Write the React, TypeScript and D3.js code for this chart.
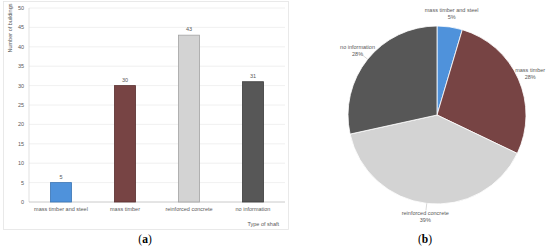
import React from 'react';
import * as d3 from 'd3';

const categories = ['mass timber and steel', 'mass timber', 'reinforced concrete', 'no information'];
const buildings = [5, 30, 43, 31];
const yTicks = [0, 5, 10, 15, 20, 25, 30, 35, 40, 45, 50];
const fills = ['#4f92db', '#774444', '#d3d3d3', '#575757'];
const strokes = ['#3b76b5', '#5a3131', '#a3a3a3', '#3e3e3e'];

const FONT = '"Liberation Sans", Arial, sans-serif';
const TXT = '#595959';

function BarChart() {
    const x = d3
        .scaleBand<string>()
        .domain(categories)
        .range([29, 285])
        .paddingInner(0.67)
        .paddingOuter(0.335);
    const y = d3.scaleLinear().domain([0, 50]).range([202, 8]);

    return (
        <g fontFamily={FONT}>
            <rect x={3.5} y={1.5} width={285} height={228} fill="none" stroke="#e4e4e4" strokeWidth={0.8} />
            {yTicks.map(t => (
                <g key={t}>
                    {t > 0 && <line x1={29} x2={285} y1={y(t)} y2={y(t)} stroke="#ececec" strokeWidth={0.8} />}
                    <text x={24} y={y(t)} dy="0.35em" fontSize={5.5} textAnchor="end" fill={TXT}>
                        {t}
                    </text>
                </g>
            ))}
            <line x1={29} x2={29} y1={y(50)} y2={y(0)} stroke="#d9d9d9" strokeWidth={0.8} />
            <line x1={29} x2={285} y1={y(0)} y2={y(0)} stroke="#bdbdbd" strokeWidth={0.8} />
            <text transform={`translate(12 ${28}) rotate(-90)`} fontSize={5.5} textAnchor="middle" fill={TXT}>
                Number of buildings
            </text>
            {categories.map((c, i) => (
                <g key={c}>
                    <rect
                        x={x(c)}
                        y={y(buildings[i])}
                        width={x.bandwidth()}
                        height={y(0) - y(buildings[i])}
                        fill={fills[i]}
                        stroke={strokes[i]}
                        strokeWidth={0.8}
                    />
                    <text x={(x(c) || 0) + x.bandwidth() / 2} y={y(buildings[i]) - 4} fontSize={5.5} textAnchor="middle" fill={TXT}>
                        {buildings[i]}
                    </text>
                    <text x={(x(c) || 0) + x.bandwidth() / 2} y={211} fontSize={5.5} textAnchor="middle" fill={TXT}>
                        {c}
                    </text>
                </g>
            ))}
            <text x={279} y={226} fontSize={5.5} textAnchor="end" fill={TXT}>
                Type of shaft
            </text>
            <text x={145} y={243} fontSize={11.5} textAnchor="middle" fontFamily='"Liberation Serif", serif' fill="#000">
                (<tspan fontWeight="bold">a</tspan>)
            </text>
        </g>
    );
}

function PieChart() {
    const cx = 437;
    const cy = 115;
    const r = 89;
    const total = d3.sum(buildings);
    const pie = d3
        .pie<number>()
        .value(d => d)
        .sort(null);
    const arcs = pie(buildings);
    const arc = d3.arc<d3.PieArcDatum<number>>().innerRadius(0).outerRadius(r);
    const labelArc = d3.arc<d3.PieArcDatum<number>>().innerRadius(102).outerRadius(102);
    const lineIn = d3.arc<d3.PieArcDatum<number>>().innerRadius(r).outerRadius(r);
    const lineOut = d3.arc<d3.PieArcDatum<number>>().innerRadius(96).outerRadius(96);

    return (
        <g transform={`translate(${cx} ${cy})`} fontFamily={FONT}>
            {arcs.map((a, i) => (
                <path key={i} d={arc(a) || ''} fill={fills[i]} stroke="#ffffff" strokeWidth={0.8} />
            ))}
            {arcs.map((a, i) => {
                const [lx, ly] = labelArc.centroid(a);
                const [x1, y1] = lineIn.centroid(a);
                const [x2, y2] = lineOut.centroid(a);
                const pct = Math.round((buildings[i] / total) * 100);
                return (
                    <g key={i}>
                        {i >= 2 && <line x1={x1} y1={y1} x2={x2} y2={y2} stroke="#bfbfbf" strokeWidth={0.6} />}
                        <text x={lx} y={ly} fontSize={5.5} textAnchor="middle" fill={TXT}>
                            <tspan x={lx} dy="-0.3em">{categories[i]}</tspan>
                            <tspan x={lx} dy="1.25em">{pct}%</tspan>
                        </text>
                    </g>
                );
            })}
            <text x={425 - cx} y={243 - cy} fontSize={11.5} textAnchor="middle" fontFamily='"Liberation Serif", serif' fill="#000">
                (<tspan fontWeight="bold">b</tspan>)
            </text>
        </g>
    );
}

export default function App() {
    return (
        <svg width={550} height={248} style={{ position: 'absolute', left: 0, top: 0, background: '#fff' }}>
            <BarChart />
            <PieChart />
        </svg>
    );
}
